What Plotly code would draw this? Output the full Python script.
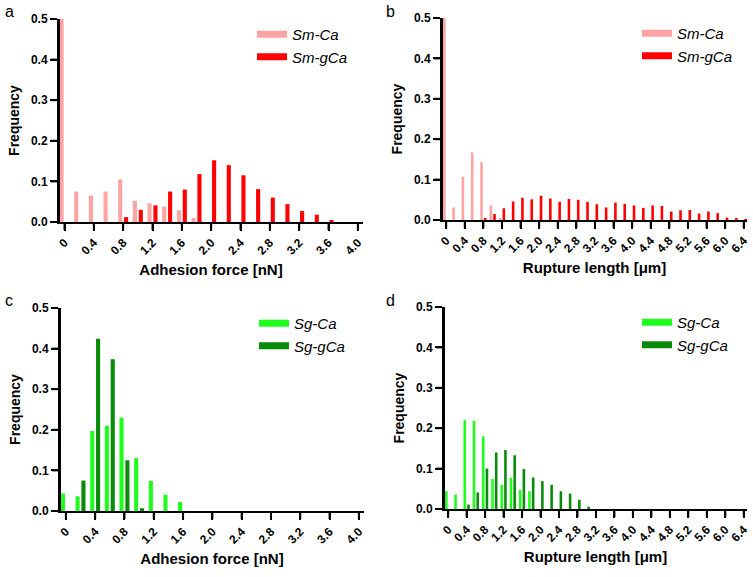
import plotly.graph_objects as go

# Bin positions (left edge of each 0.2 bin)
force_bins = [0.0, 0.2, 0.4, 0.6, 0.8, 1.0, 1.2, 1.4, 1.6, 1.8,
              2.0, 2.2, 2.4, 2.6, 2.8, 3.0, 3.2, 3.4, 3.6, 3.8]
length_bins = [0.0, 0.2, 0.4, 0.6, 0.8, 1.0, 1.2, 1.4, 1.6, 1.8,
               2.0, 2.2, 2.4, 2.6, 2.8, 3.0, 3.2, 3.4, 3.6, 3.8,
               4.0, 4.2, 4.4, 4.6, 4.8, 5.0, 5.2, 5.4, 5.6, 5.8,
               6.0, 6.2, 6.4]

# panel a - adhesion force, S. mutans
sm_ca_force = [0.500, 0.075, 0.065, 0.075, 0.105, 0.052, 0.046, 0.038, 0.029, 0.010,
               0, 0, 0, 0, 0, 0, 0, 0, 0, 0]
sm_gca_force = [0, 0, 0, 0, 0.012, 0.030, 0.041, 0.075, 0.080, 0.118,
                0.152, 0.140, 0.115, 0.081, 0.060, 0.044, 0.027, 0.018, 0.004, 0]

# panel b - rupture length, S. mutans
sm_ca_len = [0.500, 0.031, 0.107, 0.167, 0.143, 0.036, 0.003, 0, 0, 0,
             0, 0, 0, 0, 0, 0, 0, 0, 0, 0,
             0, 0, 0, 0, 0, 0, 0, 0, 0, 0,
             0, 0, 0]
sm_gca_len = [0, 0, 0, 0, 0.005, 0.015, 0.029, 0.046, 0.055, 0.051,
              0.060, 0.053, 0.045, 0.052, 0.050, 0.045, 0.039, 0.031, 0.043, 0.040,
              0.036, 0.030, 0.036, 0.035, 0.021, 0.024, 0.025, 0.016, 0.021, 0.017,
              0.006, 0.005, 0.002]

# panel c - adhesion force, S. gordonii
sg_ca_force = [0.043, 0.036, 0.197, 0.210, 0.230, 0.130, 0.074, 0.040, 0.022, 0,
               0, 0, 0, 0, 0, 0, 0, 0, 0, 0]
sg_gca_force = [0, 0.075, 0.424, 0.374, 0.125, 0.007, 0, 0, 0, 0,
                0, 0, 0, 0, 0, 0, 0, 0, 0, 0]

# panel d - rupture length, S. gordonii
sg_ca_len = [0.044, 0.036, 0.220, 0.218, 0.180, 0.074, 0.060, 0.077, 0.047, 0.044,
             0, 0, 0, 0, 0, 0, 0, 0, 0, 0,
             0, 0, 0, 0, 0, 0, 0, 0, 0, 0,
             0, 0, 0]
sg_gca_len = [0, 0, 0.011, 0.041, 0.100, 0.140, 0.146, 0.133, 0.099, 0.078,
              0.069, 0.060, 0.044, 0.038, 0.023, 0.006, 0, 0, 0, 0,
              0, 0, 0, 0, 0, 0, 0, 0, 0, 0,
              0, 0, 0]

force_ticks = [0, 0.4, 0.8, 1.2, 1.6, 2.0, 2.4, 2.8, 3.2, 3.6, 4.0]
force_ticktext = ["0", "0.4", "0.8", "1.2", "1.6", "2.0", "2.4", "2.8", "3.2", "3.6", "4.0"]
length_ticks = [0, 0.4, 0.8, 1.2, 1.6, 2.0, 2.4, 2.8, 3.2, 3.6, 4.0, 4.4, 4.8, 5.2, 5.6, 6.0, 6.4]
length_ticktext = ["0", "0.4", "0.8", "1.2", "1.6", "2.0", "2.4", "2.8", "3.2", "3.6",
                   "4.0", "4.4", "4.8", "5.2", "5.6", "6.0", "6.4"]
freq_ticks = [0, 0.1, 0.2, 0.3, 0.4, 0.5]
freq_ticktext = ["0.0", "0.1", "0.2", "0.3", "0.4", "0.5"]

PINK = "#ffa3a3"
RED = "#ff0000"
LGREEN = "#1eff1e"
DGREEN = "#0a8a0a"
FONT = "Arial"
W, H = 753, 577
TICKLEN = 7

fig = go.Figure()


def add_panel(n, bins, s1, s2, names, colors, xdom, ydom, xrange, tickv, tickt,
              xtitle, legpos, letter, letterpos):
    sfx = "" if n == 1 else str(n)
    xa, ya = "x" + sfx, "y" + sfx
    leg = "legend" + sfx
    fig.add_trace(go.Bar(x=bins, y=s1, marker_color=colors[0], marker_line_width=0,
                         showlegend=False, xaxis=xa, yaxis=ya))
    fig.add_trace(go.Bar(x=bins, y=s2, marker_color=colors[1], marker_line_width=0,
                         showlegend=False, xaxis=xa, yaxis=ya))
    # legend entries (wide flat swatches like the original)
    for nm, c in zip(names, colors):
        fig.add_trace(go.Scatter(x=[None], y=[None], mode="lines", name=nm,
                                 line=dict(color=c, width=7), legend=leg,
                                 xaxis=xa, yaxis=ya))
    fig.update_layout({
        "xaxis" + sfx: go.layout.XAxis(
            domain=xdom, anchor=ya, range=xrange, tickmode="array",
            tickvals=tickv, ticktext=["<b>%s</b>" % t for t in tickt], tickangle=-45,
            showline=True, linecolor="black", linewidth=2, ticks="outside",
            ticklen=TICKLEN, tickwidth=2, tickcolor="black", showgrid=False,
            zeroline=False, layer="above traces", automargin=False,
            tickfont=dict(family=FONT, size=12, color="black"),
            title=dict(text="<b>%s</b>" % xtitle, standoff=8,
                       font=dict(family=FONT, size=15, color="black"))),
        "yaxis" + sfx: go.layout.YAxis(
            domain=ydom, anchor=xa, range=[0, 0.5], tickmode="array",
            tickvals=freq_ticks, ticktext=["<b>%s</b>" % t for t in freq_ticktext],
            showline=True, linecolor="black", linewidth=2, ticks="outside",
            ticklen=TICKLEN, tickwidth=2, tickcolor="black", showgrid=False,
            zeroline=False, layer="above traces", automargin=False,
            tickfont=dict(family=FONT, size=12, color="black"),
            title=dict(text="<b>Frequency</b>", standoff=8,
                       font=dict(family=FONT, size=14, color="black"))),
        leg: dict(x=legpos[0], y=legpos[1], xanchor="left", yanchor="top",
                  bgcolor="rgba(0,0,0,0)", tracegroupgap=0,
                  font=dict(family=FONT, size=15, color="black")),
    })
    # vertical axis spine and tick marks, drawn explicitly on top of the bars
    spine = dict(color="black", width=2)
    fig.add_shape(type="line", xref=xa + " domain", yref=ya, x0=0, x1=0,
                  y0=0, y1=0.5, line=spine, layer="above")
    for t in freq_ticks:
        fig.add_shape(type="line", xref=xa + " domain", yref=ya, xsizemode="pixel",
                      xanchor=0, x0=-TICKLEN - 1, x1=0, y0=t, y1=t, line=spine,
                      layer="above")
    for t in tickv:
        fig.add_shape(type="line", xref=xa, yref=ya + " domain", ysizemode="pixel",
                      yanchor=0, y0=-TICKLEN - 1, y1=0, x0=t, x1=t, line=spine,
                      layer="above")
    fig.add_annotation(text=letter, xref="paper", yref="paper", x=letterpos[0],
                       y=letterpos[1], xanchor="left", yanchor="top", showarrow=False,
                       font=dict(family=FONT, size=16, color="black"))


add_panel(1, force_bins, sm_ca_force, sm_gca_force, ["<i>Sm-Ca</i>", "<i>Sm-gCa</i>"],
          [PINK, RED], [59 / W, 363 / W], [1 - 222 / H, 1 - 19 / H], [-0.075, 4.07],
          force_ticks, force_ticktext, "Adhesion force [nN]",
          (252 / W, 1 - 18 / H), "a", (3 / W, 1 - 1 / H))
add_panel(2, length_bins, sm_ca_len, sm_gca_len, ["<i>Sm-Ca</i>", "<i>Sm-gCa</i>"],
          [PINK, RED], [442 / W, 747 / W], [1 - 220 / H, 1 - 18 / H], [-0.09, 6.47],
          length_ticks, length_ticktext, "Rupture length [\u03bcm]",
          (637 / W, 1 - 17 / H), "b", (384 / W, 1 - 1 / H))
add_panel(3, force_bins, sg_ca_force, sg_gca_force, ["<i>Sg-Ca</i>", "<i>Sg-gCa</i>"],
          [LGREEN, DGREEN], [60 / W, 364 / W], [1 - 511 / H, 1 - 308 / H], [-0.08, 4.07],
          force_ticks, force_ticktext, "Adhesion force [nN]",
          (254 / W, 1 - 307 / H), "c", (3 / W, 1 - 290 / H))
add_panel(4, length_bins, sg_ca_len, sg_gca_len, ["<i>Sg-Ca</i>", "<i>Sg-gCa</i>"],
          [LGREEN, DGREEN], [444 / W, 747 / W], [1 - 509 / H, 1 - 307 / H], [-0.09, 6.47],
          length_ticks, length_ticktext, "Rupture length [\u03bcm]",
          (637 / W, 1 - 306 / H), "d", (384 / W, 1 - 290 / H))

fig.update_layout(
    width=W, height=H,
    margin=dict(l=0, r=0, t=0, b=0, autoexpand=False),
    barmode="group", bargap=0.2, bargroupgap=0.3,
    plot_bgcolor="white", paper_bgcolor="white",
    font=dict(family=FONT, color="black"),
)

# page body has a default 8px margin; drop it so the figure fills the window
fig.write_html("out.html", config={"displayModeBar": False},
               post_script="document.body.style.margin='0';")
